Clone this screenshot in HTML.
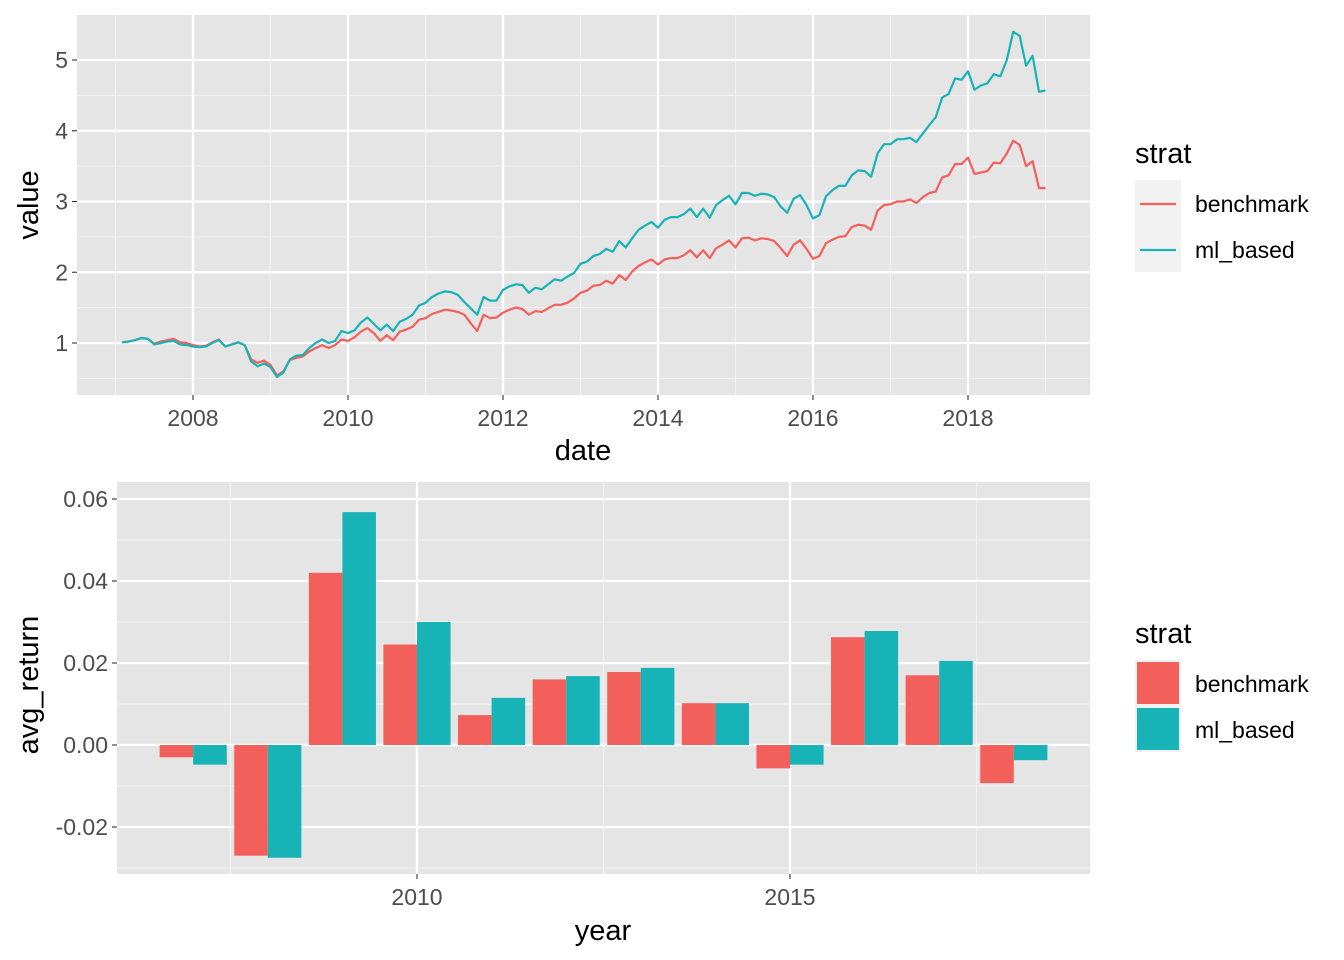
<!DOCTYPE html>
<html><head><meta charset="utf-8"><style>
body{margin:0;background:#fff;}
svg{display:block;font-family:"Liberation Sans",Arial,sans-serif;}
</style></head><body>
<svg id="chart" width="1344" height="960" viewBox="0 0 1344 960"></svg>
<script>
const benchLine=[1.01,1.02,1.04,1.07,1.06,0.99,1.02,1.04,1.06,1.01,1.00,0.97,0.95,0.96,1.01,1.05,0.95,0.98,1.01,0.97,0.77,0.72,0.75,0.69,0.54,0.60,0.76,0.79,0.81,0.88,0.93,0.97,0.93,0.97,1.05,1.03,1.08,1.16,1.21,1.14,1.03,1.11,1.04,1.16,1.19,1.23,1.33,1.35,1.41,1.44,1.47,1.46,1.44,1.40,1.28,1.17,1.40,1.35,1.36,1.43,1.47,1.50,1.48,1.40,1.45,1.44,1.49,1.54,1.54,1.57,1.63,1.71,1.74,1.81,1.82,1.88,1.84,1.96,1.89,2.01,2.09,2.14,2.18,2.11,2.18,2.20,2.20,2.24,2.31,2.21,2.31,2.20,2.34,2.39,2.45,2.35,2.48,2.49,2.45,2.48,2.47,2.44,2.34,2.23,2.39,2.45,2.33,2.19,2.23,2.41,2.46,2.50,2.51,2.64,2.67,2.66,2.60,2.87,2.95,2.96,3.00,3.00,3.03,2.98,3.06,3.12,3.14,3.34,3.37,3.53,3.53,3.62,3.39,3.41,3.43,3.55,3.54,3.68,3.86,3.80,3.50,3.57,3.19,3.19];
const mlLine=[1.01,1.02,1.04,1.07,1.06,0.98,1.00,1.02,1.03,0.98,0.97,0.95,0.94,0.95,1.00,1.04,0.95,0.98,1.01,0.97,0.74,0.67,0.71,0.66,0.52,0.58,0.77,0.82,0.83,0.93,1.00,1.05,1.00,1.03,1.17,1.14,1.18,1.29,1.36,1.27,1.18,1.26,1.17,1.30,1.34,1.40,1.53,1.57,1.65,1.70,1.73,1.72,1.68,1.58,1.49,1.40,1.65,1.60,1.60,1.75,1.80,1.83,1.82,1.71,1.78,1.76,1.83,1.90,1.88,1.94,1.99,2.12,2.15,2.23,2.26,2.33,2.29,2.44,2.35,2.48,2.60,2.66,2.71,2.63,2.74,2.78,2.78,2.82,2.90,2.78,2.90,2.77,2.95,3.02,3.08,2.96,3.12,3.12,3.08,3.11,3.10,3.06,2.93,2.84,3.04,3.09,2.95,2.76,2.81,3.07,3.16,3.22,3.22,3.37,3.44,3.43,3.35,3.68,3.81,3.81,3.88,3.88,3.90,3.84,3.96,4.08,4.19,4.47,4.52,4.74,4.72,4.84,4.58,4.64,4.67,4.80,4.77,5.00,5.40,5.34,4.92,5.06,4.55,4.57];
const startYear=2007;
const topXTicks=[2008,2010,2012,2014,2016,2018];
const topYTicks=[1,2,3,4,5];
const years=[2007,2008,2009,2010,2011,2012,2013,2014,2015,2016,2017,2018];
const benchRet=[-0.003,-0.027,0.042,0.0245,0.0073,0.016,0.0178,0.0102,-0.0057,0.0263,0.017,-0.0093];
const mlRet=[-0.0048,-0.0275,0.0568,0.030,0.0115,0.0168,0.0188,0.0102,-0.0048,0.0278,0.0205,-0.0037];
const botXTicks=[2010,2015];
const botYTicks=[-0.02,0,0.02,0.04,0.06];
const botYLabels=["-0.02","0.00","0.02","0.04","0.06"];

const NS="http://www.w3.org/2000/svg";
const svg=document.getElementById('chart');
function mk(tag,attrs,parent,text){const e=document.createElementNS(NS,tag);for(const k in attrs)e.setAttribute(k,attrs[k]);if(text!==undefined)e.textContent=text;(parent||svg).appendChild(e);return e;}
const RED="#F35F5A",TEAL="#18B3B7",PANEL="#E5E5E5";
const TF=23,AF=29;

// ---- top panel
const T={l:77,r:1090,t:15,b:395};
const tx=d=>115.5+(d-2007)*77.5;
const ty=v=>343-(v-1)*70.75;
let p=mk('rect',{x:T.l,y:T.t,width:T.r-T.l,height:T.b-T.t,fill:PANEL});

for(const v of [0.5,1.5,2.5,3.5,4.5]){mk('line',{x1:T.l,x2:T.r,y1:ty(v),y2:ty(v),stroke:"#F2F2F2","stroke-width":1.1});}
for(const y of [2007,2009,2011,2013,2015,2017,2019]){mk('line',{x1:tx(y),x2:tx(y),y1:T.t,y2:T.b,stroke:"#F2F2F2","stroke-width":1.1});}
for(const v of topYTicks){mk('line',{x1:T.l,x2:T.r,y1:ty(v),y2:ty(v),stroke:"#fff","stroke-width":2.2});
 mk('line',{x1:T.l-5,x2:T.l,y1:ty(v),y2:ty(v),stroke:"#333","stroke-width":1.1});
 const t=mk('text',{x:T.l-9,y:ty(v)+8,"text-anchor":"end","font-size":TF,fill:"#4D4D4D"},null,String(v));
 }
for(const y of topXTicks){mk('line',{x1:tx(y),x2:tx(y),y1:T.t,y2:T.b,stroke:"#fff","stroke-width":2.2});
 mk('line',{x1:tx(y),x2:tx(y),y1:T.b,y2:T.b+5,stroke:"#333","stroke-width":1.1});
 const t=mk('text',{x:tx(y),y:T.b+31,"text-anchor":"middle","font-size":TF,fill:"#4D4D4D"},null,String(y));
 }
function linePath(arr){return arr.map((v,i)=>(i?'L':'M')+tx(startYear+(i+1)/12).toFixed(1)+','+ty(v).toFixed(1)).join('');}
let l1=mk('path',{d:linePath(benchLine),fill:"none",stroke:RED,"stroke-width":2.2,"stroke-linejoin":"round"});

let l2=mk('path',{d:linePath(mlLine),fill:"none",stroke:TEAL,"stroke-width":2.2,"stroke-linejoin":"round"});

let at=mk('text',{x:583,y:460,"text-anchor":"middle","font-size":AF,fill:"#000"},null,"date");

at=mk('text',{x:38,y:205,"text-anchor":"middle","font-size":AF,fill:"#000",transform:"rotate(-90 38 205)"},null,"value");


// top legend
let lg=mk('g',{});
mk('text',{x:1135,y:163,"font-size":AF,fill:"#000"},lg,"strat");
mk('rect',{x:1135,y:180,width:46,height:92,fill:"#F2F2F2"},lg);
mk('line',{x1:1140,x2:1176,y1:204,y2:204,stroke:RED,"stroke-width":2.2},lg);
mk('line',{x1:1140,x2:1176,y1:250,y2:250,stroke:TEAL,"stroke-width":2.2},lg);
let le=mk('text',{x:1195,y:212,"font-size":TF,fill:"#000"},lg,"benchmark");
le=mk('text',{x:1195,y:258,"font-size":TF,fill:"#000"},lg,"ml_based");

// ---- bottom panel
const B={l:117,r:1090,t:482,b:874};
const bx=y=>417+(y-2010)*74.6;
const by=v=>745-v*4100;
p=mk('rect',{x:B.l,y:B.t,width:B.r-B.l,height:B.b-B.t,fill:PANEL});

for(const v of [-0.03,-0.01,0.01,0.03,0.05]){mk('line',{x1:B.l,x2:B.r,y1:by(v),y2:by(v),stroke:"#F2F2F2","stroke-width":1.1});}
for(const y of [2007.5,2012.5,2017.5]){mk('line',{x1:bx(y),x2:bx(y),y1:B.t,y2:B.b,stroke:"#F2F2F2","stroke-width":1.1});}
botYTicks.forEach((v,i)=>{mk('line',{x1:B.l,x2:B.r,y1:by(v),y2:by(v),stroke:"#fff","stroke-width":2.2});
 mk('line',{x1:B.l-5,x2:B.l,y1:by(v),y2:by(v),stroke:"#333","stroke-width":1.1});
 const t=mk('text',{x:B.l-9,y:by(v)+8,"text-anchor":"end","font-size":TF,fill:"#4D4D4D"},null,botYLabels[i]);
 });
for(const y of botXTicks){mk('line',{x1:bx(y),x2:bx(y),y1:B.t,y2:B.b,stroke:"#fff","stroke-width":2.2});
 mk('line',{x1:bx(y),x2:bx(y),y1:B.b,y2:B.b+5,stroke:"#333","stroke-width":1.1});
 const t=mk('text',{x:bx(y),y:B.b+31,"text-anchor":"middle","font-size":TF,fill:"#4D4D4D"},null,String(y));
 }
const bw=0.45*74.6;
years.forEach((y,i)=>{
 const v1=benchRet[i],v2=mlRet[i];
 const r1=mk('rect',{x:bx(y)-bw,y:Math.min(by(v1),by(0)),width:bw,height:Math.abs(by(v1)-by(0)),fill:RED});
 
 const r2=mk('rect',{x:bx(y),y:Math.min(by(v2),by(0)),width:bw,height:Math.abs(by(v2)-by(0)),fill:TEAL});
 
});
at=mk('text',{x:603,y:940,"text-anchor":"middle","font-size":AF,fill:"#000"},null,"year");

at=mk('text',{x:38,y:685,"text-anchor":"middle","font-size":AF,fill:"#000",transform:"rotate(-90 38 685)"},null,"avg_return");


lg=mk('g',{});
mk('text',{x:1135,y:643,"font-size":AF,fill:"#000"},lg,"strat");
mk('rect',{x:1135,y:660,width:46,height:92,fill:"#F2F2F2"},lg);
mk('rect',{x:1137,y:662,width:42,height:42,fill:RED},lg);
mk('rect',{x:1137,y:708,width:42,height:42,fill:TEAL},lg);
le=mk('text',{x:1195,y:692,"font-size":TF,fill:"#000"},lg,"benchmark");
le=mk('text',{x:1195,y:738,"font-size":TF,fill:"#000"},lg,"ml_based");
</script>
</body></html>
